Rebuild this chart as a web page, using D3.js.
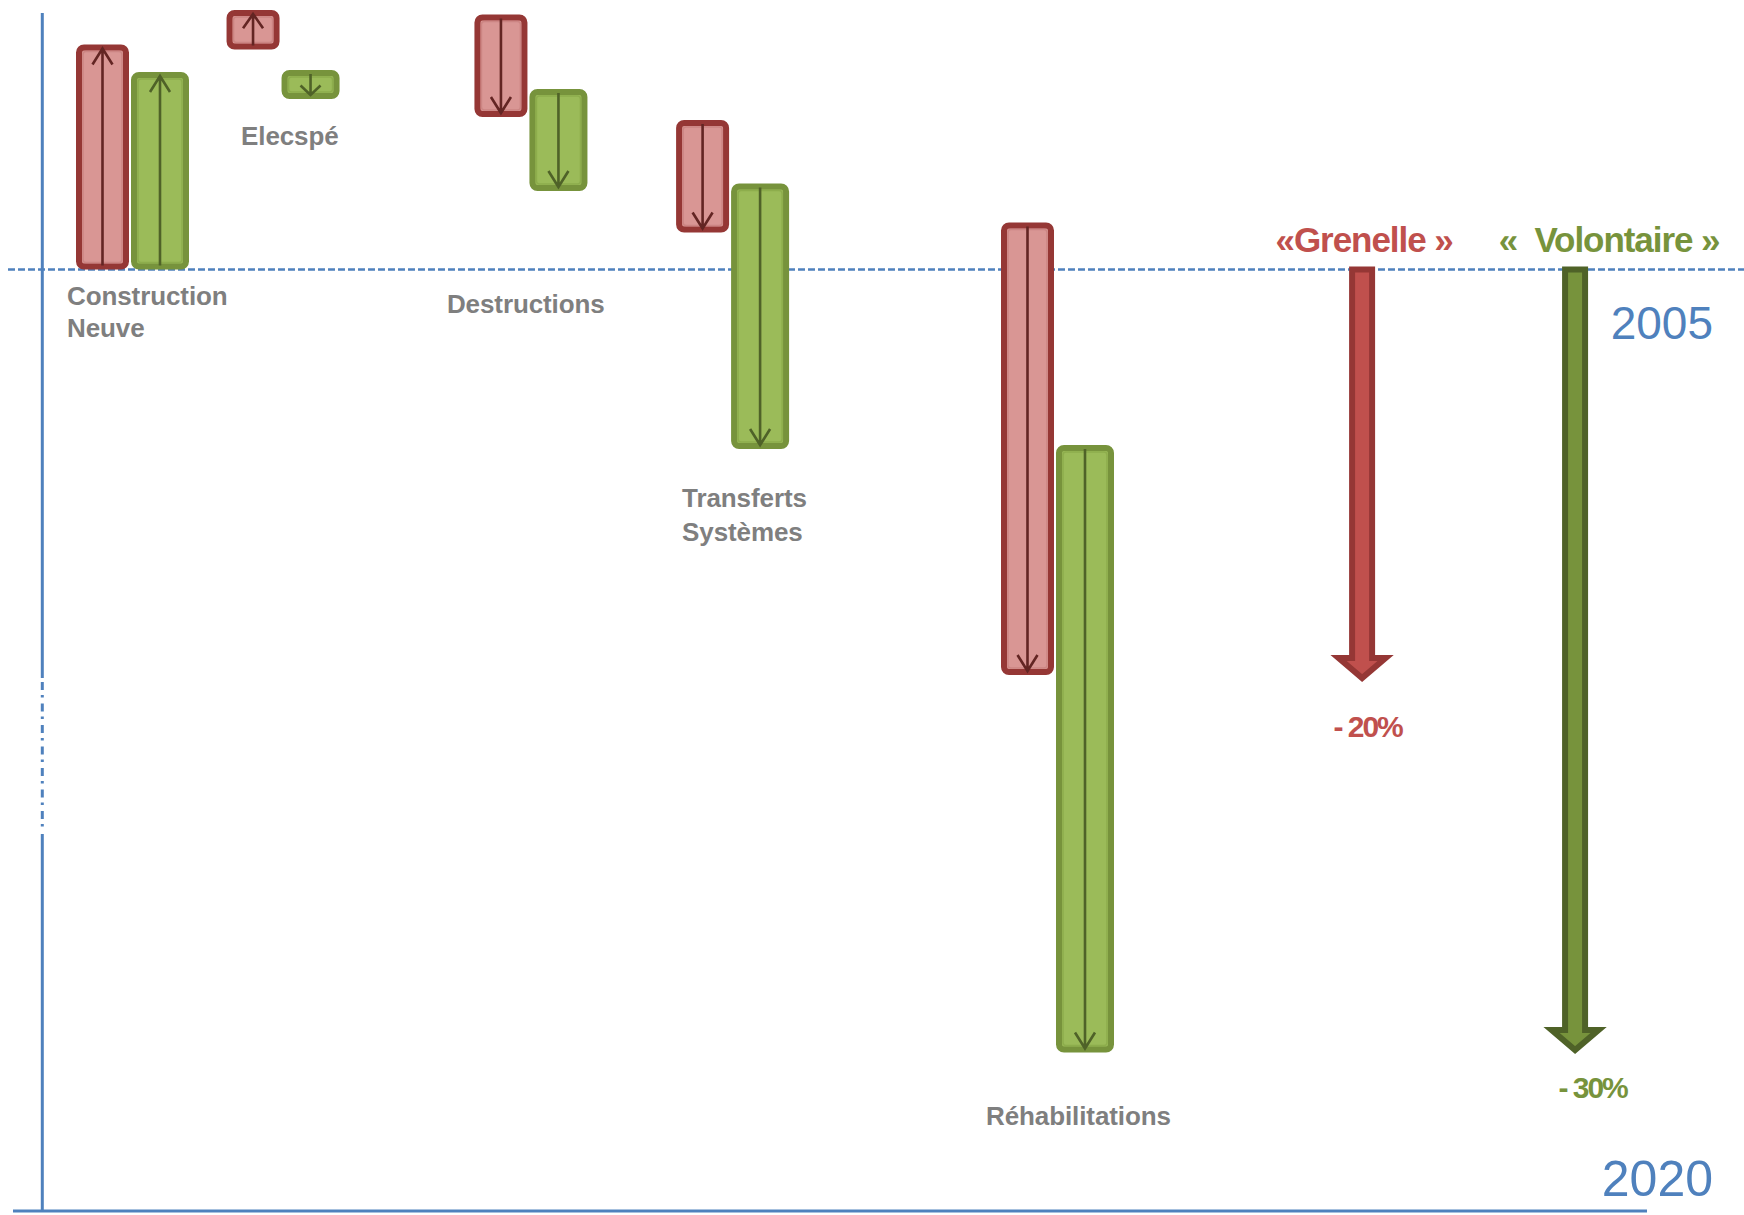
<!DOCTYPE html>
<html><head><meta charset="utf-8">
<script src="https://cdn.jsdelivr.net/npm/d3@7"></script>
<style>
html,body{margin:0;padding:0;background:#fff;}
svg{display:block;}
</style></head>
<body><svg id="chart" width="1744" height="1215"></svg>
<script>
// ---------------- DATA (levels in arbitrary units, 0 = 2005 level) ----------------
const categories = ["Construction Neuve", "Elecspé", "Destructions", "Transferts Systèmes", "Réhabilitations"];
const categoryLabelLines = [["Construction", "Neuve"], ["Elecspé"], ["Destructions"], ["Transferts", "Systèmes"], ["Réhabilitations"]];
const grenelleStart   = [0, 22.0, 25.5, 14.95, 4.7];
const grenelleEnd     = [22.5, 25.95, 15.25, 3.7, -40.55];
const volontaireStart = [0, 19.95, 18.05, 8.6, -17.55];
const volontaireEnd   = [19.75, 17.05, 7.85, -17.95, -78.3];
const scenarioNames   = ["«Grenelle »", "«  Volontaire »"];
const scenarioTotals  = [-41.25, -78.45];
const scenarioLabels  = ["- 20%", "- 30%"];
const yearLabels      = ["2005", "2020"];

// ---------------- LAYOUT ----------------
const catSlot = [0, 0.651, 1.723, 2.595, 4];      // horizontal slot of each step
const scenarioSlot = [5.328, 6.249];
const labelLayout = [ // dx from slot, baseline y of first line, line height
  {dx: -63, y: 305, lh: 32},
  {dx: -39.5, y: 145, lh: 32},
  {dx: -81.5, y: 313, lh: 32},
  {dx: -48, y: 507, lh: 34},
  {dx: -69, y: 1125, lh: 32}
];
const COLORS = {
  redFill: "#d99694", redStroke: "#953735", redArrow: "#632523", redInner: "#cc8583",
  greenFill: "#9bbb59", greenStroke: "#77933c", greenArrow: "#4f6228", greenInner: "#8dad4c",
  bigRedFill: "#c0504d", bigRedStroke: "#953735",
  bigGreenFill: "#77933c", bigGreenStroke: "#4f6228",
  blue: "#4f81bd", gray: "#7f7f7f"
};
const FONT = "'Liberation Sans', Arial, sans-serif";

const svg = d3.select("#chart");
const x = d3.scaleLinear().domain([0, 4]).range([130, 1055]);
const y = d3.scaleLinear().domain([0, -80]).range([269.5, 1069.5]);

// ---------------- FRAME ----------------
const axisX = 42.3;
// vertical axis: solid / dash-dot / solid
svg.append("line").attr("x1", axisX).attr("x2", axisX).attr("y1", 13).attr("y2", 678)
  .attr("stroke", COLORS.blue).attr("stroke-width", 3);
svg.append("line").attr("x1", axisX).attr("x2", axisX).attr("y1", 682).attr("y2", 830)
  .attr("stroke", COLORS.blue).attr("stroke-width", 3).attr("stroke-dasharray", "8,5,2.5,6");
svg.append("line").attr("x1", axisX).attr("x2", axisX).attr("y1", 834).attr("y2", 1212)
  .attr("stroke", COLORS.blue).attr("stroke-width", 3);
// bottom axis
svg.append("line").attr("x1", 13).attr("x2", 1647).attr("y1", 1211).attr("y2", 1211)
  .attr("stroke", COLORS.blue).attr("stroke-width", 3);
// 2005 dashed baseline
svg.append("line").attr("x1", 8).attr("x2", 1744).attr("y1", y(0)).attr("y2", y(0))
  .attr("stroke", COLORS.blue).attr("stroke-width", 2.6).attr("stroke-dasharray", "7,3");

// ---------------- STEP BARS ----------------
const series = [
  {name: "grenelle", start: grenelleStart, end: grenelleEnd, off: -54, w: 53,
   fill: COLORS.redFill, stroke: COLORS.redStroke, arrow: COLORS.redArrow, inner: COLORS.redInner},
  {name: "volontaire", start: volontaireStart, end: volontaireEnd, off: 1, w: 58,
   fill: COLORS.greenFill, stroke: COLORS.greenStroke, arrow: COLORS.greenArrow, inner: COLORS.greenInner}
];
const SW = 6;
series.forEach(s => {
  const data = categories.map((c, i) => ({c, i, s0: s.start[i], s1: s.end[i]}));
  const g = svg.append("g").attr("class", "series-" + s.name);
  const bars = g.selectAll("g.bar").data(data).join("g").attr("class", "bar");
  bars.append("rect")
    .attr("x", d => x(catSlot[d.i]) + s.off + SW / 2)
    .attr("width", s.w - SW)
    .attr("y", d => Math.min(y(d.s0), y(d.s1)) + SW / 2)
    .attr("height", d => Math.abs(y(d.s0) - y(d.s1)) - SW)
    .attr("rx", 5).attr("ry", 5)
    .attr("fill", s.fill).attr("stroke", s.stroke).attr("stroke-width", SW);
  bars.append("rect")
    .attr("x", d => x(catSlot[d.i]) + s.off + SW + 1)
    .attr("width", s.w - 2 * SW - 2)
    .attr("y", d => Math.min(y(d.s0), y(d.s1)) + SW + 1)
    .attr("height", d => Math.max(0, Math.abs(y(d.s0) - y(d.s1)) - 2 * SW - 2))
    .attr("rx", 3).attr("ry", 3)
    .attr("fill", "none").attr("stroke", s.inner).attr("stroke-width", 1.5);
  bars.append("path")
    .attr("d", d => {
      const cx = x(catSlot[d.i]) + s.off + s.w / 2;
      const dir = y(d.s1) > y(d.s0) ? 1 : -1;
      const ys = y(d.s0) + dir * 4;
      const ye = y(d.s1) - dir * 4;
      const hl = Math.min(16, Math.abs(ye - ys) * 0.45);
      return `M${cx},${ys}L${cx},${ye}M${cx - 10},${ye - dir * hl}L${cx},${ye}L${cx + 10},${ye - dir * hl}`;
    })
    .attr("fill", "none").attr("stroke", s.arrow).attr("stroke-width", 2.6)
    .attr("stroke-linejoin", "miter");
});

// ---------------- CATEGORY LABELS ----------------
categories.forEach((c, i) => {
  const L = labelLayout[i];
  const t = svg.append("text")
    .attr("x", x(catSlot[i]) + L.dx).attr("y", L.y)
    .attr("font-family", FONT).attr("font-weight", "bold").attr("font-size", 26)
    .attr("letter-spacing", -0.1).attr("fill", COLORS.gray);
  categoryLabelLines[i].forEach((line, k) => {
    t.append("tspan").attr("x", x(catSlot[i]) + L.dx).attr("dy", k === 0 ? 0 : L.lh).text(line);
  });
});

// ---------------- SCENARIO ARROWS ----------------
const scen = [
  {fill: COLORS.bigRedFill, stroke: COLORS.bigRedStroke, text: COLORS.bigRedFill, titleDx: 2, pctDx: 5.5, pctDy: 55},
  {fill: COLORS.bigGreenFill, stroke: COLORS.bigGreenStroke, text: COLORS.greenStroke, titleDx: 34, pctDx: 17.5, pctDy: 44}
];
scenarioNames.forEach((name, i) => {
  const S = scen[i];
  const cx = x(scenarioSlot[i]);
  const y0 = y(0);
  const tip = y(scenarioTotals[i]) - 4;
  const base = tip - 20;
  const sw = 10, hw = 23.5;
  const p = d3.path();
  p.moveTo(cx - sw, y0); p.lineTo(cx - sw, base); p.lineTo(cx - hw, base);
  p.lineTo(cx, tip); p.lineTo(cx + hw, base); p.lineTo(cx + sw, base);
  p.lineTo(cx + sw, y0); p.closePath();
  svg.append("path").attr("d", p.toString())
    .attr("fill", S.fill).attr("stroke", S.stroke).attr("stroke-width", 6)
    .attr("stroke-linejoin", "miter").attr("stroke-miterlimit", 10);
  svg.append("text").attr("x", cx + S.titleDx).attr("y", 252)
    .attr("text-anchor", "middle").attr("font-family", FONT).attr("font-weight", "bold")
    .attr("font-size", 35).attr("letter-spacing", -1.05).attr("fill", S.text)
    .attr("xml:space", "preserve").style("white-space", "pre").text(name);
  svg.append("text").attr("x", cx + S.pctDx).attr("y", tip + 4 + S.pctDy)
    .attr("text-anchor", "middle").attr("font-family", FONT).attr("font-weight", "bold")
    .attr("font-size", 30).attr("letter-spacing", -2).attr("fill", S.text)
    .style("white-space", "pre").text(scenarioLabels[i]);
});

// ---------------- YEAR LABELS ----------------
const yearPos = [339, 1196];
const yearSize = [46, 50];
yearLabels.forEach((t, i) => {
  svg.append("text").attr("x", 1713).attr("y", yearPos[i]).attr("text-anchor", "end")
    .attr("font-family", FONT).attr("font-size", yearSize[i]).attr("fill", COLORS.blue).text(t);
});
</script>
</body></html>
